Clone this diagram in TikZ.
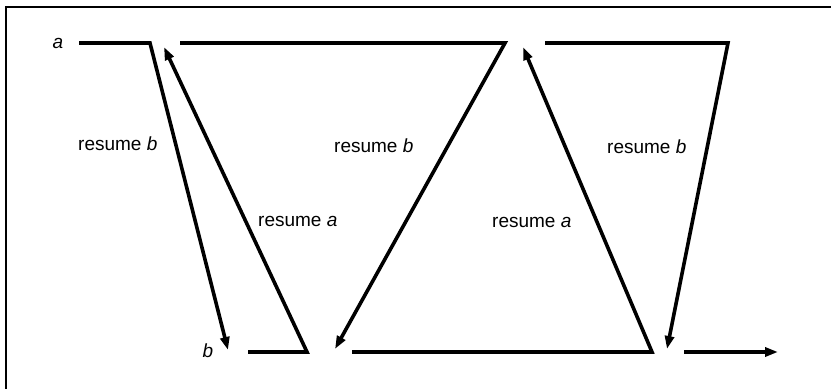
\documentclass[tikz,border=0pt]{standalone}
\usepackage{fontspec}
\setmainfont{Liberation Sans}
\usetikzlibrary{arrows.meta}
\begin{document}
\begin{tikzpicture}[x=1pt,y=-1pt,
  flow/.style={line width=3.6pt,line join=miter,-{Triangle[length=13pt,width=9pt]}},
  plainflow/.style={line width=3.6pt,line join=miter},
  lbl/.style={inner sep=0pt,font=\fontsize{19}{22}\selectfont},
  frame/.style={line width=1.6pt}]
\useasboundingbox (0,0) rectangle (831,389);
% frame (top and left edges visible)
\coordinate (f1) at (831,7);
\coordinate (f2) at (6,7);
\coordinate (f3) at (6,389);
\draw[frame] (f1) -- (f2) -- (f3);
% coordinates
\coordinate (a0) at (79,43);
\coordinate (a1) at (150,43);
\coordinate (b1) at (228,350);
\coordinate (b2) at (248,352);
\coordinate (b3) at (307,352);
\coordinate (a2) at (164,47);
\coordinate (a3) at (180,43);
\coordinate (a4) at (505,43);
\coordinate (b4) at (335,349);
\coordinate (b5) at (352,352);
\coordinate (b6) at (652,352);
\coordinate (a5) at (523,47);
\coordinate (a6) at (545,43);
\coordinate (a7) at (728,43);
\coordinate (b7) at (667,349);
\coordinate (b8) at (684,352);
\coordinate (b9) at (778,352);
% paths
\draw[flow] (a0) -- (a1) -- (b1);
\draw[flow] (b2) -- (b3) -- (a2);
\draw[flow] (a3) -- (a4) -- (b4);
\draw[flow] (b5) -- (b6) -- (a5);
\draw[flow] (a6) -- (a7) -- (b7);
\draw[flow] (b8) -- (b9);
% labels
\node[lbl] (la) at (58,43) {\itshape a};
\node[lbl] (lb) at (208,351) {\itshape b};
\node[lbl,anchor=base west] (rb1) at (78,150) {resume \textit{b}};
\node[lbl,anchor=base west] (ra1) at (258,226) {resume \textit{a}};
\node[lbl,anchor=base west] (rb2) at (334,152) {resume \textit{b}};
\node[lbl,anchor=base west] (ra2) at (492,227) {resume \textit{a}};
\node[lbl,anchor=base west] (rb3) at (607,153) {resume \textit{b}};
\end{tikzpicture}
\end{document}
